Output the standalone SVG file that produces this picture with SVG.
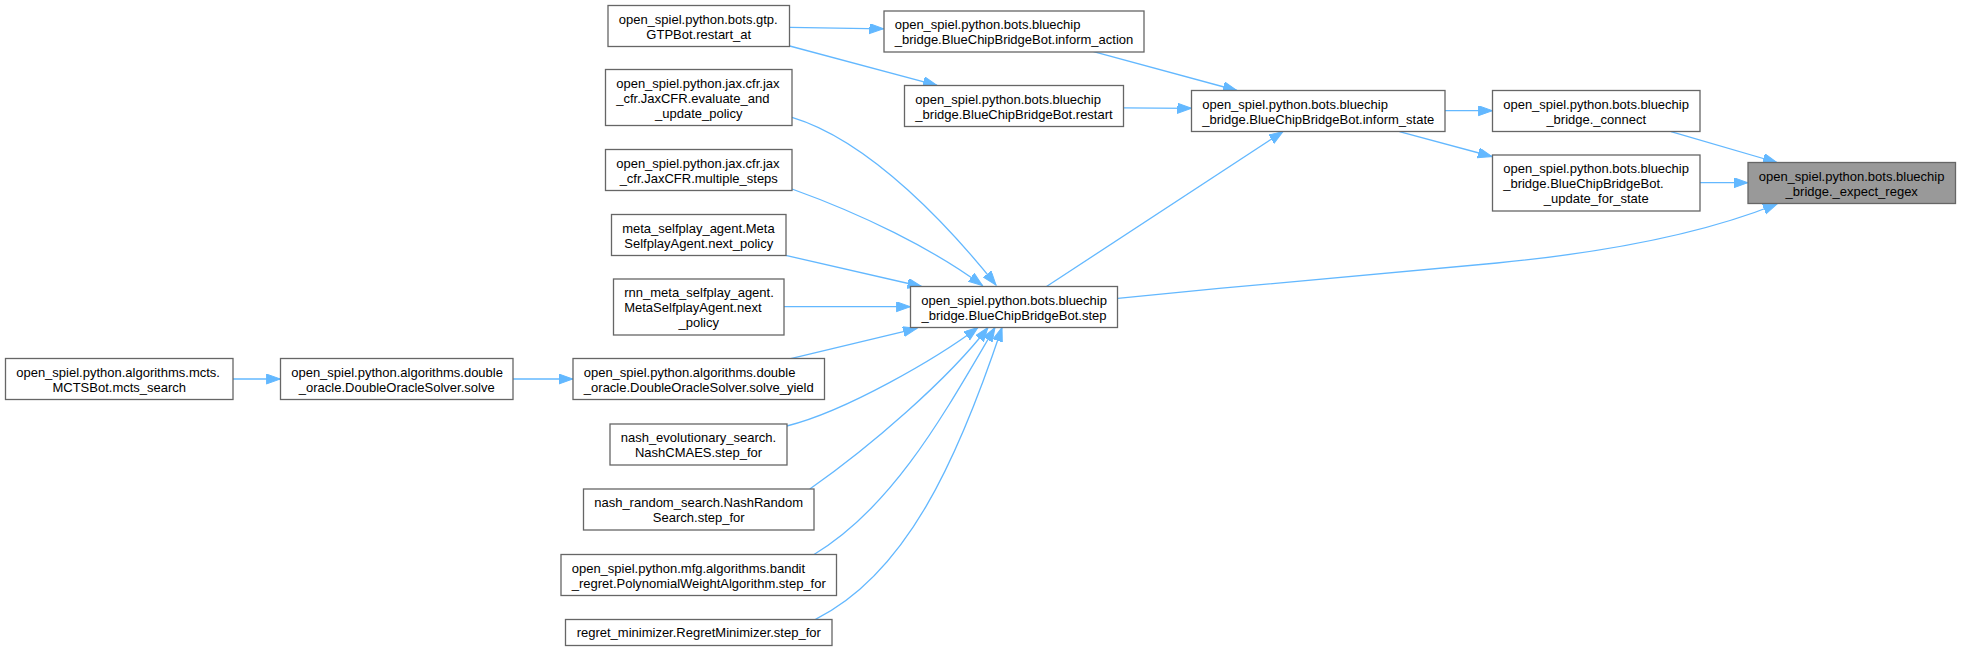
<svg xmlns="http://www.w3.org/2000/svg" width="1961" height="651" viewBox="0 0 1961 651">
<defs>
<style>
.n rect{fill:#ffffff;stroke:#666666;stroke-width:1.3}
.n.h rect{fill:#999999}
.n text{font-family:"Liberation Sans",Arial,Helvetica,sans-serif;font-size:13px;fill:#000000}
.m{text-anchor:middle}
#edges path{fill:none;stroke:#63b8ff;stroke-width:1.3;marker-end:url(#ah)}
</style>
<marker id="ah" markerUnits="userSpaceOnUse" markerWidth="15" markerHeight="11" refX="14" refY="5" orient="auto">
<path d="M0,0 L14,5 L0,10 z" fill="#63b8ff" stroke="#63b8ff" stroke-width="1"/>
</marker>
</defs>
<rect width="1961" height="651" fill="#ffffff"/>
<g id="edges">
<path d="M790,27.3 L883.5,28.8"/>
<path d="M789.7,46 L937,85.3"/>
<path d="M1093.5,51.7 L1237,90.5"/>
<path d="M1123.5,107.8 L1191.5,108.3"/>
<path d="M1046.5,286.5 L1283,131.5"/>
<path d="M1445,110.7 L1492.4,110.7"/>
<path d="M1399.4,131.7 L1492,156.5"/>
<path d="M1671,131.7 L1777,162.5"/>
<path d="M1700,182.7 L1747.8,182.7"/>
<path d="M1117.8,298.3 C1250,285 1400,272 1497,263 C1600,253 1700,235 1777,204"/>
<path d="M792,117.3 C872,141.3 953,231.2 996,285"/>
<path d="M792,189 C862,214.2 931.5,248 982.5,285.5"/>
<path d="M785.7,255.3 L921.5,286.5"/>
<path d="M784,306.7 L910.3,306.7"/>
<path d="M790.7,358.7 L917,328.3"/>
<path d="M786.8,426 C846.8,411 938,357.5 978,327.5"/>
<path d="M809.8,489 C869.8,447 948,379.5 988,327.5"/>
<path d="M813.6,554.7 C893.6,506.7 945,412.5 995,327.5"/>
<path d="M815.5,619.3 C905.5,574.3 957,462.5 1002,327.5"/>
<path d="M232.8,379 L280.3,379"/>
<path d="M513.1,379 L572.8,379"/>
</g>
<g id="gtp" class="n"><rect x="608" y="5.5" width="181.5" height="41"/><text x="618.7" y="23.5">open_spiel.python.bots.gtp.</text><text class="m" x="698.75" y="38.5">GTPBot.restart_at</text></g>
<g id="inform_action" class="n"><rect x="884" y="11" width="260" height="41"/><text x="894.7" y="29">open_spiel.python.bots.bluechip</text><text class="m" x="1014" y="44">_bridge.BlueChipBridgeBot.inform_action</text></g>
<g id="evaluate" class="n"><rect x="605.5" y="69.5" width="186.5" height="56"/><text x="616.2" y="87.5">open_spiel.python.jax.cfr.jax</text><text x="616.2" y="102.5">_cfr.JaxCFR.evaluate_and</text><text class="m" x="698.75" y="117.5">_update_policy</text></g>
<g id="restart" class="n"><rect x="904.5" y="85.5" width="219" height="41"/><text x="915.2" y="103.5">open_spiel.python.bots.bluechip</text><text class="m" x="1014" y="118.5">_bridge.BlueChipBridgeBot.restart</text></g>
<g id="inform_state" class="n"><rect x="1191.5" y="90.5" width="253.5" height="41"/><text x="1202.2" y="108.5">open_spiel.python.bots.bluechip</text><text class="m" x="1318.25" y="123.5">_bridge.BlueChipBridgeBot.inform_state</text></g>
<g id="connect" class="n"><rect x="1492.5" y="90.5" width="207.5" height="41"/><text x="1503.2" y="108.5">open_spiel.python.bots.bluechip</text><text class="m" x="1596.25" y="123.5">_bridge._connect</text></g>
<g id="update_for_state" class="n"><rect x="1492.5" y="155" width="207.5" height="56"/><text x="1503.2" y="173">open_spiel.python.bots.bluechip</text><text x="1503.2" y="188">_bridge.BlueChipBridgeBot.</text><text class="m" x="1596.25" y="203">_update_for_state</text></g>
<g id="expect_regex" class="n h"><rect x="1748" y="162.5" width="207.5" height="41"/><text x="1758.7" y="180.5">open_spiel.python.bots.bluechip</text><text class="m" x="1851.75" y="195.5">_bridge._expect_regex</text></g>
<g id="multiple_steps" class="n"><rect x="605.5" y="149.5" width="186.5" height="41"/><text x="616.2" y="167.5">open_spiel.python.jax.cfr.jax</text><text class="m" x="698.75" y="182.5">_cfr.JaxCFR.multiple_steps</text></g>
<g id="meta" class="n"><rect x="611.5" y="214.5" width="174.5" height="41"/><text x="622.2" y="232.5">meta_selfplay_agent.Meta</text><text class="m" x="698.75" y="247.5">SelfplayAgent.next_policy</text></g>
<g id="rnn" class="n"><rect x="613.5" y="279" width="170.5" height="56"/><text x="624.2" y="297">rnn_meta_selfplay_agent.</text><text x="624.2" y="312">MetaSelfplayAgent.next</text><text class="m" x="698.75" y="327">_policy</text></g>
<g id="step" class="n"><rect x="910.5" y="286.5" width="207" height="41"/><text x="921.2" y="304.5">open_spiel.python.bots.bluechip</text><text class="m" x="1014" y="319.5">_bridge.BlueChipBridgeBot.step</text></g>
<g id="mcts" class="n"><rect x="5.5" y="358.5" width="227.5" height="41"/><text x="16.2" y="376.5">open_spiel.python.algorithms.mcts.</text><text class="m" x="119.25" y="391.5">MCTSBot.mcts_search</text></g>
<g id="solve" class="n"><rect x="280.5" y="358.5" width="232.5" height="41"/><text x="291.2" y="376.5">open_spiel.python.algorithms.double</text><text class="m" x="396.75" y="391.5">_oracle.DoubleOracleSolver.solve</text></g>
<g id="solve_yield" class="n"><rect x="573" y="358.5" width="251.5" height="41"/><text x="583.7" y="376.5">open_spiel.python.algorithms.double</text><text class="m" x="698.75" y="391.5">_oracle.DoubleOracleSolver.solve_yield</text></g>
<g id="nash_evo" class="n"><rect x="610" y="424" width="177" height="41"/><text x="620.7" y="442">nash_evolutionary_search.</text><text class="m" x="698.5" y="457">NashCMAES.step_for</text></g>
<g id="nash_rand" class="n"><rect x="583.5" y="489" width="230.5" height="41"/><text x="594.2" y="507">nash_random_search.NashRandom</text><text class="m" x="698.75" y="522">Search.step_for</text></g>
<g id="bandit" class="n"><rect x="561" y="554.5" width="275.5" height="41"/><text x="571.7" y="572.5">open_spiel.python.mfg.algorithms.bandit</text><text class="m" x="698.75" y="587.5">_regret.PolynomialWeightAlgorithm.step_for</text></g>
<g id="regret" class="n"><rect x="565.5" y="619.5" width="266.5" height="26"/><text class="m" x="698.75" y="637">regret_minimizer.RegretMinimizer.step_for</text></g>
</svg>
